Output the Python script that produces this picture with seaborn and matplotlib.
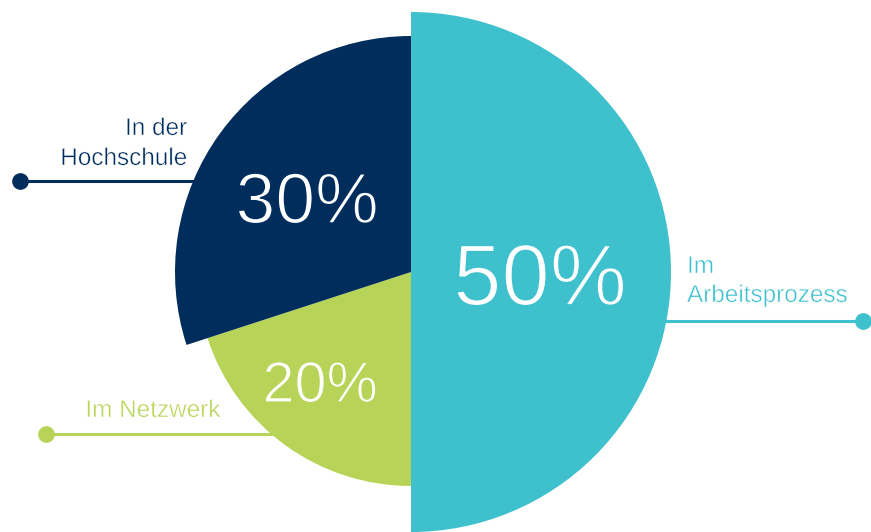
import matplotlib
matplotlib.use("Agg")
import matplotlib.pyplot as plt
import matplotlib.patheffects as pe
import seaborn as sns

# ---- data ----
categories = ["Im Arbeitsprozess", "Im Netzwerk", "In der Hochschule"]
shares = [50, 20, 30]
pct_labels = ["50%", "20%", "30%"]
colors = ["#3EC1CD", "#B8D458", "#002D5C"]

sns.set_theme(style="white")
plt.rcParams["font.family"] = ["Liberation Sans", "DejaVu Sans"]

W, H = 871, 532
fig = plt.figure(figsize=(W / 100, H / 100), dpi=100)
ax = fig.add_axes([0, 0, 1, 1])

cx, cy = 411, 272
radii = [260, 214, 236]

wedges, _ = ax.pie(shares, colors=colors, startangle=-90, counterclock=True,
                   center=(cx, cy), radius=1.0, frame=False,
                   wedgeprops=dict(linewidth=0))
for w, r in zip(wedges, radii):
    w.set_radius(r)
    w.set_zorder(3)

ax.set_xlim(0, W)
ax.set_ylim(H, 0)
ax.set_aspect("equal")
ax.axis("off")

# percentage labels (slightly thinned with a stroke in the slice colour)
pct_style = [(540, 305, 62.5, 1.3), (320, 402, 41.5, 0.9), (307, 223, 51.5, 1.1)]
for txt, col, (x, y, fs, sw) in zip(pct_labels, colors, pct_style):
    ax.text(x, y, txt, color="white", fontsize=fs, ha="center", va="baseline",
            zorder=5, path_effects=[pe.Stroke(linewidth=sw, foreground=col)])

# leader lines with dots
leaders = [((650, 863), 321), ((280, 46), 434), ((220, 20), 181)]
for col, ((x0, x1), y) in zip(colors, leaders):
    ax.plot([x0, x1], [y, y], color=col, lw=2.2, zorder=2, solid_capstyle="butt")
    ax.plot([x1], [y], "o", color=col, ms=11, zorder=2)

# category labels
fs_lab = 17.5
thin = [pe.Stroke(linewidth=0.35, foreground="white")]
ax.text(687, 273, "Im", color=colors[0], fontsize=fs_lab, ha="left", va="baseline", path_effects=thin)
ax.text(687, 302, "Arbeitsprozess", color=colors[0], fontsize=fs_lab, ha="left", va="baseline", path_effects=thin)
ax.text(220, 417, "Im Netzwerk", color=colors[1], fontsize=fs_lab, ha="right", va="baseline", path_effects=thin)
ax.text(187, 135, "In der", color=colors[2], fontsize=fs_lab, ha="right", va="baseline", path_effects=thin)
ax.text(187, 165, "Hochschule", color=colors[2], fontsize=fs_lab, ha="right", va="baseline", path_effects=thin)

fig.savefig("out.png", dpi=100, facecolor="white")
